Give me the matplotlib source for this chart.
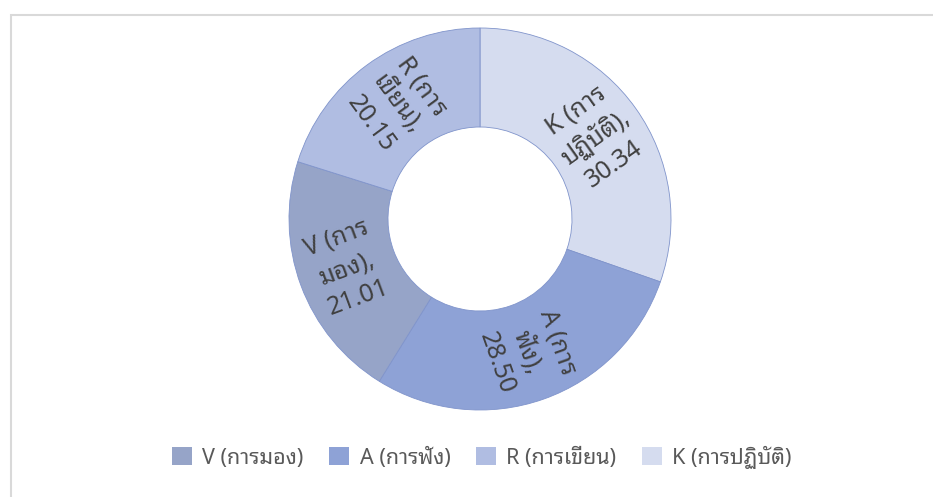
import matplotlib
matplotlib.use('Agg')
import matplotlib.pyplot as plt
from matplotlib.patches import Patch, Rectangle
import numpy as np

FONT = ['Noto Sans Thai Looped', 'Noto Sans', 'DejaVu Sans']
plt.rcParams['font.family'] = FONT

# data, in the order drawn clockwise from 12 o'clock
names = ['K (การปฏิบัติ)', 'A (การฟัง)', 'V (การมอง)', 'R (การเขียน)']
label_text = ['K (การ\nปฏิบัติ),\n30.34', 'A (การ\nฟัง),\n28.50',
              'V (การ\nมอง),\n21.01', 'R (การ\nเขียน),\n20.15']
values = [30.34, 28.50, 21.01, 20.15]
colors = ['#d5dcef', '#8ea2d6', '#96a4c8', '#b0bde2']
legend_order = [2, 1, 3, 0]   # V, A, R, K

W, H = 933, 497
fig = plt.figure(figsize=(W / 100, H / 100), dpi=100)

# chart border
fig.patches.append(Rectangle((10.5 / W, -0.01), 1.0, 1 - 14.5 / H + 0.01,
                             transform=fig.transFigure, fill=False,
                             ec='#d9d9d9', lw=1.5))

# donut axes: centre (480, 219), outer radius 191 px
cx, cy, r = 480, 219, 191
ax = fig.add_axes([(cx - r) / W, (H - cy - r) / H, 2 * r / W, 2 * r / H])
hole = 92 / r
wedges, _ = ax.pie(values, colors=colors, startangle=90, counterclock=False,
                   radius=1, wedgeprops=dict(width=1 - hole, edgecolor='#8094cb', linewidth=0.6))
ax.set_xlim(-1, 1)
ax.set_ylim(-1, 1)
ax.set_aspect('equal')
ax.axis('off')

# rotated data labels in the middle of the ring
rmid = (1 + hole) / 2
for w, txt in zip(wedges, label_text):
    ang = (w.theta1 + w.theta2) / 2
    x = rmid * np.cos(np.deg2rad(ang))
    y = rmid * np.sin(np.deg2rad(ang))
    rot = (ang + 180) % 360 - 180
    if rot > 90:
        rot -= 180
    elif rot < -90:
        rot += 180
    ax.text(x, y, txt, ha='center', va='center', rotation=rot,
            rotation_mode='anchor', fontsize=18, color='#404040',
            linespacing=1.35, multialignment='center')

# legend
handles = [Patch(facecolor=colors[i], edgecolor='none') for i in legend_order]
fig.legend(handles, [names[i] for i in legend_order], loc='center',
           bbox_to_anchor=(482 / W, 1 - 457 / H), ncol=4, frameon=False,
           fontsize=15.5, labelcolor='#595959', handlelength=0.93,
           handleheight=0.93, handletextpad=0.47, columnspacing=1.2)

fig.savefig('out.png', dpi=100)
